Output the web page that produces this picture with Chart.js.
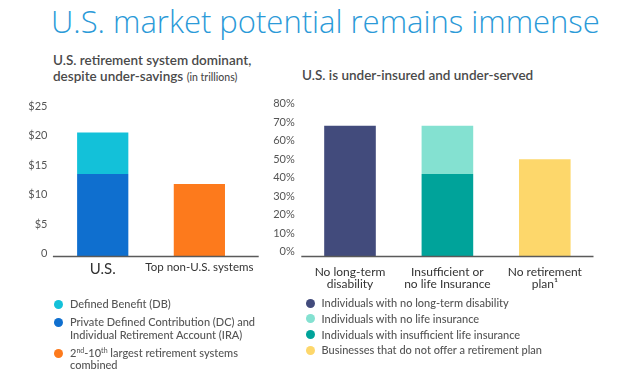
<!DOCTYPE html>
<html>
<head>
<meta charset="utf-8">
<script src="https://cdn.jsdelivr.net/npm/chart.js@4.4.1/dist/chart.umd.min.js"></script>
<style>
    body { margin: 0; width: 640px; height: 371px; background: #fff; position: relative; overflow: hidden;
           font-family: Lato, "Open Sans", sans-serif; }
    .title { position: absolute; left: 51px; top: 2.7px; font-family: "Open Sans", Lato, sans-serif; font-size: 31px;
             line-height: 1.2; font-weight: 300; color: #2b9ad8; white-space: nowrap; }
    .sub { position: absolute; font-size: 13.5px; line-height: 16px; font-weight: 600; color: #4a4a4a; white-space: nowrap; }
    .sub small { font-size: 10.5px; font-weight: 500; }
    canvas { position: absolute; }
    .legend { position: absolute; font-size: 11px; line-height: 12.3px; color: #555; font-weight: 500; }
    .legend .item { position: relative; padding-left: 16px; white-space: nowrap; }
    .legend .dot { position: absolute; left: 0; top: 1.7px; width: 9px; height: 9px; border-radius: 50%; }
    .legend sup { font-size: 7px; line-height: 0; vertical-align: 4px; }
</style>
</head>
<body>
<div class="title">U.S. market potential remains immense</div>
<div class="sub" style="left:53px; top:52px;">U.S. retirement system dominant,<br>despite under-savings <small>(in trillions)</small></div>
<div class="sub" style="left:302px; top:67px;">U.S. is under-insured and under-served</div>

<canvas id="leftChart" width="280" height="200" style="left:0; top:90px;"></canvas>
<canvas id="rightChart" width="390" height="210" style="left:250px; top:90px;"></canvas>

<div class="legend" id="leftLegend" style="left:54px; top:298px;"></div>
<div class="legend" id="rightLegend" style="left:305.5px; top:297px;"></div>

<script>
// ================================
// DATA
// ================================
const leftCategories = ['U.S.', 'Top non-U.S. systems'];
const leftTicks = [0, 5, 10, 15, 20, 25];
const privateDcIra = [13.5, null];      // bottom of U.S. bar
const definedBenefit = [7.0, null];     // stacked on DC/IRA
const topNonUs = [null, 11.8];

const rightCategories = [
    ['No long-term', 'disability'],
    ['Insufficient or', 'no life Insurance'],
    ['No retirement', 'plan\u00b9']
];
const rightTicks = [0, 10, 20, 30, 40, 50, 60, 70, 80];
const noLongTermDisability = [68, null, null];
const insufficientLife = [null, 42, null];  // bottom of middle bar
const noLife = [null, 26, null];            // stacked on insufficient
const noRetirementPlan = [null, null, 50];

const leftLegend = [
    { label: 'Defined Benefit (DB)', color: '#13c1d9' },
    { label: 'Private Defined Contribution (DC) and<br>Individual Retirement Account (IRA)', color: '#0f6fcf' },
    { label: '2<sup>nd</sup>-10<sup>th</sup> largest retirement systems<br>combined', color: '#fd7a1c' }
];
const rightLegend = [
    { label: 'Individuals with no long-term disability', color: '#424b7c' },
    { label: 'Individuals with no life insurance', color: '#84e1d1' },
    { label: 'Individuals with insufficient life insurance', color: '#00a39a' },
    { label: 'Businesses that do not offer a retirement plan', color: '#fdd76b' }
];

// ================================
// CONFIG
// ================================
const FONT = 'Lato, "Open Sans", sans-serif';
const LEFT_MIN = -0.4;   // axis line sits a little below the 0 label
const RIGHT_MIN = -2.2;

Chart.defaults.font.family = FONT;
Chart.defaults.animation = false;

// axis line drawn over the bar feet, can run past the plot area
const baselinePlugin = {
    id: 'baseline',
    afterDatasetsDraw(chart, args, opts) {
        const { ctx, chartArea } = chart;
        ctx.save();
        ctx.strokeStyle = opts.color;
        ctx.lineWidth = opts.width;
        ctx.beginPath();
        ctx.moveTo(chartArea.left - opts.extLeft, chartArea.bottom + 0.5);
        ctx.lineTo(chartArea.right + opts.extRight, chartArea.bottom + 0.5);
        ctx.stroke();
        ctx.restore();
    }
};

function baseOptions(o) {
    return {
        responsive: false,
        layout: { padding: o.padding },
        plugins: {
            legend: { display: false },
            tooltip: { enabled: false },
            baseline: { color: '#5a5a5a', width: 1.5, extLeft: o.extLeft, extRight: o.extRight }
        },
        scales: {
            x: {
                stacked: true,
                grid: { display: false, drawTicks: false },
                border: { display: false },
                ticks: { color: '#333', padding: o.xPad, font: o.xFont, maxRotation: 0, autoSkip: false },
                afterFit: s => { s.height = o.xHeight; }
            },
            y: {
                stacked: true,
                min: o.min,
                max: o.max,
                grid: { display: false, drawTicks: false },
                border: { display: false },
                ticks: { color: '#555', padding: o.yPad, font: { size: 11 }, callback: o.fmt },
                afterBuildTicks: s => { s.ticks = o.ticks.map(v => ({ value: v })); },
                afterFit: s => { s.width = o.yWidth; }
            }
        }
    };
}

function bar(label, data, color, base) {
    const ds = {
        label, data, backgroundColor: color, borderWidth: 0,
        categoryPercentage: 1, barPercentage: 0.53, skipNull: true
    };
    if (base !== undefined) ds.base = base;
    return ds;
}

// ================================
// LEFT CHART
// ================================
new Chart(document.getElementById('leftChart'), {
    type: 'bar',
    data: {
        labels: leftCategories,
        datasets: [
            bar('Private DC and IRA', privateDcIra, '#0f6fcf', LEFT_MIN),
            bar('Defined Benefit (DB)', definedBenefit, '#13c1d9'),
            bar('2nd-10th largest', topNonUs, '#fd7a1c', LEFT_MIN)
        ]
    },
    options: baseOptions({
        padding: { top: 16, right: 32.3, bottom: 0, left: 0 },
        min: LEFT_MIN, max: 25, ticks: leftTicks,
        fmt: v => (v === 0 ? '0' : '$' + v),
        yWidth: 54.4, yPad: 7,
        xHeight: 34, xPad: 4,
        xFont: ctx => ({ size: ctx.index === 0 ? 15 : 11.5, lineHeight: 1.2 }),
        extLeft: 1.5, extRight: 11
    }),
    plugins: [baselinePlugin]
});

// ================================
// RIGHT CHART
// ================================
new Chart(document.getElementById('rightChart'), {
    type: 'bar',
    data: {
        labels: rightCategories,
        datasets: [
            bar('No long-term disability', noLongTermDisability, '#424b7c', RIGHT_MIN),
            bar('Insufficient life insurance', insufficientLife, '#00a39a', RIGHT_MIN),
            bar('No life insurance', noLife, '#84e1d1'),
            bar('No retirement plan', noRetirementPlan, '#fdd76b', RIGHT_MIN)
        ]
    },
    options: baseOptions({
        padding: { top: 13.6, right: 46.5, bottom: 0, left: 0 },
        min: RIGHT_MIN, max: 80, ticks: rightTicks,
        fmt: v => v + '%',
        yWidth: 51.3, yPad: 6.5,
        xHeight: 44, xPad: 10.3,
        xFont: { size: 12, lineHeight: 1 },
        extLeft: 0, extRight: 0
    }),
    plugins: [baselinePlugin]
});

// ================================
// LEGENDS
// ================================
function renderLegend(id, items, gap) {
    const el = document.getElementById(id);
    el.innerHTML = items.map((it, i) =>
        `<div class="item" style="margin-top:${i ? gap : 0}px"><span class="dot" style="background:${it.color}"></span>${it.label}</div>`
    ).join('');
}
renderLegend('leftLegend', leftLegend, 6.1);
renderLegend('rightLegend', rightLegend, 3.5);
</script>
</body>
</html>
